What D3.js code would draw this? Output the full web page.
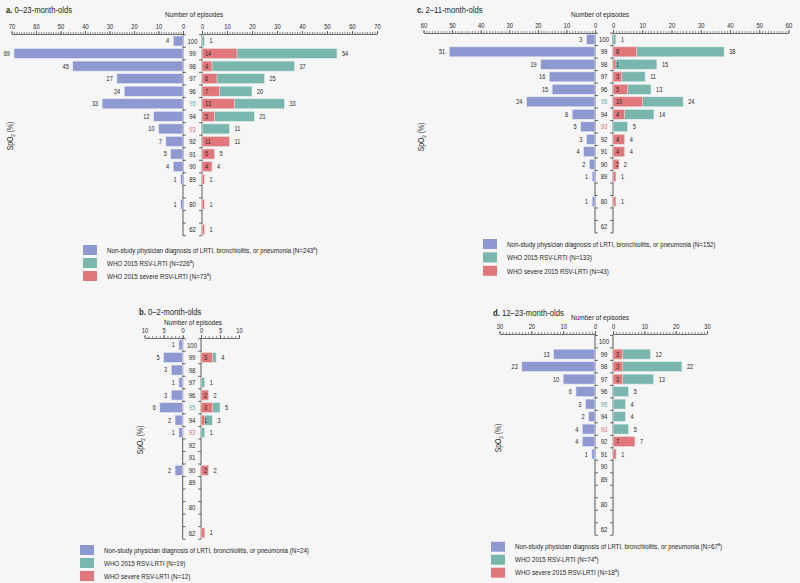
<!DOCTYPE html>
<html><head><meta charset="utf-8">
<script src="https://cdn.jsdelivr.net/npm/d3@7"></script>
<style>
html,body{margin:0;padding:0;background:#f6f6f6;}
svg{display:block;}
</style>
</head><body>
<svg id="chart" width="800" height="583"></svg>
<script>
// ---------------- DATA ----------------
const spo2Levels = ["100","99","98","97","96","95","94","93","92","91","90","89","80","62"];

// a. 0–23-month-olds
const aNonStudy = [4,69,45,27,24,33,12,10,7,5,4,1,1,0];
const aWho      = [1,54,37,25,20,33,21,11,11,5,4,1,1,1];
const aSevere   = [0,14,4,6,7,13,5,0,11,5,4,1,1,1];
const aTicks    = [0,10,20,30,40,50,60,70];
const aLegend   = [["Non-study physician diagnosis of LRTI, bronchiolitis, or pneumonia (N=243","a",")"],
                   ["WHO 2015 RSV-LRTI (N=226","a",")"],
                   ["WHO 2015 severe RSV-LRTI (N=73","a",")"]];

// b. 0–2-month-olds
const bNonStudy = [1,5,3,1,3,6,2,1,0,0,2,0,0,0];
const bWho      = [0,4,0,1,2,5,3,1,0,0,2,0,0,1];
const bSevere   = [0,3,0,0,2,3,1,0,0,0,2,0,0,1];
const bTicks    = [0,5,10];
const bLegend   = [["Non-study physician diagnosis of LRTI, bronchiolitis, or pneumonia (N=24","",")"],
                   ["WHO 2015 RSV-LRTI (N=19","",")"],
                   ["WHO severe RSV-LRTI (N=12","",")"]];

// c. 2–11-month-olds
const cNonStudy = [3,51,19,16,15,24,8,5,3,4,2,1,1,0];
const cWho      = [1,38,15,11,13,24,14,5,4,4,2,1,1,0];
const cSevere   = [0,8,1,3,5,10,4,0,4,4,2,1,1,0];
const cTicks    = [0,10,20,30,40,50,60];
const cLegend   = [["Non-study physician diagnosis of LRTI, bronchiolitis, or pneumonia (N=152","",")"],
                   ["WHO 2015 RSV-LRTI (N=133","",")"],
                   ["WHO severe 2015 RSV-LRTI (N=43","",")"]];

// d. 12–23-month-olds
const dNonStudy = [0,13,23,10,6,3,2,4,4,1,0,0,0,0];
const dWho      = [0,12,22,13,5,4,4,5,7,1,0,0,0,0];
const dSevere   = [0,3,3,3,0,0,0,0,7,1,0,0,0,0];
const dTicks    = [0,10,20,30];
const dLegend   = [["Non-study physician diagnosis of LRTI, bronchiolitis, or pneumonia (N=67","a",")"],
                   ["WHO 2015 RSV-LRTI (N=74","a",")"],
                   ["WHO severe 2015 RSV-LRTI (N=18","a",")"]];

// ---------------- STYLE ----------------
const COL_NS = "#8e99d2", COL_WHO = "#79b6ae", COL_SEV = "#e2777b";
const TXT = "#262626", AX = "#4a4a4a";
const FONT = "'Liberation Sans', Arial, sans-serif";
const SX = 0.8; // horizontal condensing of the narrow typeface

const svg = d3.select("#chart").style("font-family", FONT);
svg.append("rect").attr("width",800).attr("height",583).attr("fill","#f6f6f6");

const tf = (x, y) => `translate(${x},${y}) scale(${SX},1)`;

const panels = [
  {letter:"a", title:"0–23-month-olds", ns:aNonStudy, who:aWho, sev:aSevere, ticks:aTicks, legend:aLegend,
   max:70, leftZero:183, leftEnd:11.5, rightZero:202, rightEnd:377, axisY:34, top:34.7, step:12.56,
   titleX:6, titleY:13, noeX:194, noeY:17, centerX:192.5, legX:83, legY:250, legStep:13, spoX:10, spoY:136},
  {letter:"b", title:"0–2-month-olds", ns:bNonStudy, who:bWho, sev:bSevere, ticks:bTicks, legend:bLegend,
   max:10, leftZero:182.7, leftEnd:144.5, rightZero:201, rightEnd:239, axisY:338, top:338.7, step:12.53,
   titleX:139, titleY:315, noeX:193, noeY:325, centerX:192, legX:80, legY:550, legStep:13, spoX:140, spoY:440},
  {letter:"c", title:"2–11-month-olds", ns:cNonStudy, who:cWho, sev:cSevere, ticks:cTicks, legend:cLegend,
   max:60, leftZero:595, leftEnd:423.5, rightZero:613, rightEnd:788.5, axisY:33, top:33.1, step:12.49,
   titleX:417, titleY:13, noeX:600, noeY:17, centerX:604, legX:483, legY:244, legStep:13.4, spoX:421, spoY:137},
  {letter:"d", title:"12–23-month-olds", ns:dNonStudy, who:dWho, sev:dSevere, ticks:dTicks, legend:dLegend,
   max:30, leftZero:595, leftEnd:499.5, rightZero:613, rightEnd:707, axisY:334, top:335.4, step:12.49,
   titleX:493, titleY:316, noeX:600, noeY:320, centerX:604, legX:491, legY:546.7, legStep:13, spoX:498, spoY:438}
];

function drawPanel(cfg){
  const g = svg.append("g").attr("class","panel-"+cfg.letter);
  const slots = [];
  spo2Levels.forEach(l => { if (l === "80" || l === "62") slots.push("gap-" + l); slots.push(l); });

  const y = d3.scaleBand().domain(slots)
    .range([cfg.top, cfg.top + cfg.step * slots.length])
    .paddingInner(0.2).paddingOuter(0.1);
  const xL = d3.scaleLinear().domain([0, cfg.max]).range([cfg.leftZero, cfg.leftEnd]);
  const xR = d3.scaleLinear().domain([0, cfg.max]).range([cfg.rightZero, cfg.rightEnd]);

  // title
  const t = g.append("text").attr("transform", tf(cfg.titleX, cfg.titleY))
    .attr("font-size", 9.6).attr("fill", TXT);
  t.append("tspan").attr("font-weight","bold").text(cfg.letter + ".");
  t.append("tspan").text(" " + cfg.title);

  g.append("text").attr("transform", tf(cfg.noeX, cfg.noeY)).attr("text-anchor","middle")
    .attr("font-size", 8.1).attr("fill", TXT).text("Number of episodes");

  // top axes
  [xL, xR].forEach(sc => {
    const minor = g.append("g").attr("transform", `translate(0,${cfg.axisY})`)
      .call(d3.axisTop(sc).tickValues(d3.range(0, cfg.max + 1)).tickSize(2).tickFormat(""));
    minor.select(".domain").remove();
    minor.selectAll("line").attr("stroke", AX).attr("stroke-width", 0.6);
    const major = g.append("g").attr("transform", `translate(0,${cfg.axisY})`)
      .call(d3.axisTop(sc).tickValues(cfg.ticks).tickSize(3).tickPadding(2).tickSizeOuter(0).tickFormat(d3.format("d")));
    major.select(".domain").attr("stroke", AX).attr("stroke-width", 0.8);
    major.selectAll("line").attr("stroke", AX).attr("stroke-width", 0.8);
    major.selectAll("text").attr("font-size", 7.2).attr("fill", TXT).attr("font-family", FONT)
      .attr("transform", `scale(${SX},1)`);
  });

  // vertical zero axes with boundary ticks
  const y1 = y.range()[1], y0 = y.range()[0];
  const bounds = d3.range(slots.length + 1).map(i => y0 + i * y.step());
  [[cfg.leftZero, 3], [cfg.rightZero, -3]].forEach(([x, dir]) => {
    g.append("line").attr("x1", x).attr("x2", x).attr("y1", cfg.axisY).attr("y2", y1)
      .attr("stroke", AX).attr("stroke-width", 0.9);
    g.selectAll(null).data(bounds).enter().append("line")
      .attr("x1", x).attr("x2", x + dir).attr("y1", d => d).attr("y2", d => d)
      .attr("stroke", AX).attr("stroke-width", 0.8);
  });

  const rows = spo2Levels.map((lvl, i) => ({lvl, ns: cfg.ns[i], who: cfg.who[i], sev: cfg.sev[i]}));
  const bw = y.bandwidth();
  const cy = r => y(r.lvl) + bw / 2;

  // non-study bars (left)
  g.selectAll(null).data(rows.filter(r => r.ns > 0)).enter().append("rect")
    .attr("x", r => xL(r.ns)).attr("y", r => y(r.lvl))
    .attr("width", r => cfg.leftZero - xL(r.ns)).attr("height", bw)
    .attr("fill", COL_NS).attr("stroke", "#e8e9f4").attr("stroke-width", 0.6);
  g.selectAll(null).data(rows.filter(r => r.ns > 0)).enter().append("text")
    .attr("transform", r => tf(xL(r.ns) - 4, cy(r))).attr("dy","0.35em")
    .attr("text-anchor","end").attr("font-size", 7).attr("fill", TXT).text(r => r.ns);

  // WHO bars (right)
  g.selectAll(null).data(rows.filter(r => r.who > 0)).enter().append("rect")
    .attr("x", cfg.rightZero).attr("y", r => y(r.lvl))
    .attr("width", r => xR(r.who) - cfg.rightZero).attr("height", bw)
    .attr("fill", COL_WHO).attr("stroke", "#e3f0ee").attr("stroke-width", 0.6);
  // severe bars overlay
  g.selectAll(null).data(rows.filter(r => r.sev > 0)).enter().append("rect")
    .attr("x", cfg.rightZero).attr("y", r => y(r.lvl))
    .attr("width", r => xR(r.sev) - cfg.rightZero).attr("height", bw)
    .attr("fill", COL_SEV).attr("stroke", "#f6e3e3").attr("stroke-width", 0.6);
  g.selectAll(null).data(rows.filter(r => r.who > 0)).enter().append("text")
    .attr("transform", r => tf(xR(r.who) + 5, cy(r))).attr("dy","0.35em")
    .attr("font-size", 7).attr("fill", TXT).text(r => r.who);
  g.selectAll(null).data(rows.filter(r => r.sev > 1 || (r.sev > 0 && r.sev < r.who))).enter().append("text")
    .attr("transform", r => tf(cfg.rightZero + 3, cy(r))).attr("dy","0.35em")
    .attr("font-size", 7).attr("fill", TXT).text(r => r.sev);

  // center category labels
  g.selectAll(null).data(spo2Levels).enter().append("text")
    .attr("transform", d => tf(cfg.centerX, y(d) + bw/2)).attr("dy","0.35em")
    .attr("text-anchor","middle").attr("font-size", 7.5)
    .attr("fill", d => d === "95" ? "#6aaeb0" : d === "93" ? "#e07070" : TXT)
    .text(d => d);

  // y title
  const yt = g.append("text")
    .attr("transform", `translate(${cfg.spoX},${cfg.spoY}) rotate(-90) scale(${SX},1)`)
    .attr("text-anchor","middle").attr("dy","0.35em").attr("font-size", 8.5).attr("fill", TXT);
  yt.append("tspan").text("SpO");
  yt.append("tspan").attr("font-size", 5.8).attr("dy", 2).text("2");
  yt.append("tspan").attr("dy", -2).text(" (%)");

  // legend
  const cols = [COL_NS, COL_WHO, COL_SEV];
  cfg.legend.forEach((parts, i) => {
    const ly = cfg.legY + i * cfg.legStep;
    g.append("rect").attr("x", cfg.legX).attr("y", ly - 5).attr("width", 14).attr("height", 10).attr("fill", cols[i]);
    const lt = g.append("text").attr("transform", tf(cfg.legX + 24, ly)).attr("dy","0.35em")
      .attr("font-size", 7.8).attr("fill", TXT);
    lt.append("tspan").text(parts[0]);
    if (parts[1]) lt.append("tspan").attr("font-size", 5).attr("dy", -3).text(parts[1]);
    lt.append("tspan").attr("dy", parts[1] ? 3 : 0).text(parts[2]);
  });
}

panels.forEach(drawPanel);
</script>
</body></html>
